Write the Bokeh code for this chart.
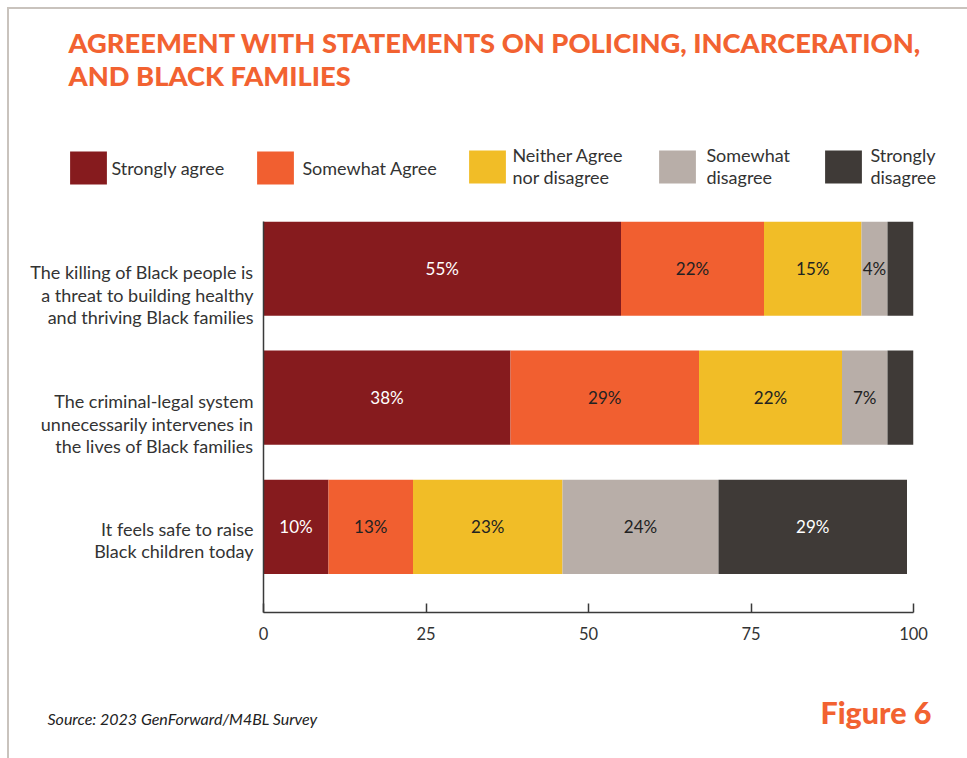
import numpy as np
from bokeh.plotting import figure
from bokeh.layouts import column
from bokeh.models import (ColumnDataSource, Label, Legend, LegendItem,
                          FixedTicker, Range1d)
from bokeh.core.properties import value
from bokeh.embed import file_html
from bokeh.resources import INLINE

# ---------------- data ----------------
statements = [
    "The killing of Black people is\na threat to building healthy\nand thriving Black families",
    "The criminal-legal system\nunnecessarily intervenes in\nthe lives of Black families",
    "It feels safe to raise\nBlack children today",
]
responses = ["Strongly agree", "Somewhat Agree", "Neither Agree\nnor disagree",
             "Somewhat\ndisagree", "Strongly\ndisagree"]
strongly_agree = [55, 38, 10]
somewhat_agree = [22, 29, 13]
neither = [15, 22, 23]
somewhat_disagree = [4, 7, 24]
strongly_disagree = [4, 4, 29]
# value labels printed in the bars (False = segment left unlabelled)
shown_strongly_agree = [True, True, True]
shown_somewhat_agree = [True, True, True]
shown_neither = [True, True, True]
shown_somewhat_disagree = [True, True, True]
shown_strongly_disagree = [False, False, True]
x_ticks = [0, 25, 50, 75, 100]

title_line1 = "AGREEMENT WITH STATEMENTS ON POLICING, INCARCERATION,"
title_line2 = "AND BLACK FAMILIES"
source_text = "Source: 2023 GenForward/M4BL Survey"
figure_text = "Figure 6"

# ---------------- styles ----------------
colors = ["#861B1E", "#F15F30", "#F1BD27", "#B8AEA8", "#3F3A37"]
label_colors = ["#FFFFFF", "#222222", "#222222", "#222222", "#FFFFFF"]
ORANGE = "#F26231"
FONT = "Lato"
HEAVY = "Lato Black"
TEXT = "#333333"
BORDER = "#C9C3BD"

W, H = 967, 758
HEAD_H = 221          # header strip (title + legend)
FOOT_H = 88           # footer strip (source + figure number)
MAIN_H = H - HEAD_H - FOOT_H
FL, FR = 263, 913     # plot frame left/right in pixels
FRAME_H = 391         # plot frame height in pixels
Y_LO, Y_HI = -0.663, 2.364
PX_PER_UNIT = FRAME_H / (Y_HI - Y_LO)
LABEL_DROP_PX = 13    # category labels sit lower by this much per extra line

# legend layout (pixels): swatch left edges and label gaps, as in the original
LEGEND_X = [70, 257, 469, 659, 825]
LEGEND_STANDOFF = [0, 4, 2, 6, 4]
LEGEND_BOTTOM = 188
# bokeh insets area swatches by 10% on each side
SW_W, SW_H = 37, 33
GLYPH_W, GLYPH_H = SW_W / 0.8, SW_H / 0.8
INSET_X = (GLYPH_W - SW_W) / 2

series = [strongly_agree, somewhat_agree, neither, somewhat_disagree, strongly_disagree]
shown = [shown_strongly_agree, shown_somewhat_agree, shown_neither,
         shown_somewhat_disagree, shown_strongly_disagree]
keys = ["s0", "s1", "s2", "s3", "s4"]
n = len(statements)
ypos = [n - 1 - i for i in range(n)]


def bare(fig):
    fig.outline_line_color = None
    fig.grid.visible = False
    fig.border_fill_color = None
    fig.background_fill_color = None
    fig.frame_align = False
    return fig


# ---------------- header: title + legend ----------------
head = bare(figure(width=W, height=HEAD_H, x_range=Range1d(0, W), y_range=Range1d(HEAD_H, 0),
                   x_axis_type=None, y_axis_type=None, output_backend="svg",
                   toolbar_location=None, min_border=0))
for txt, cy in [(title_line1, 42), (title_line2, 75)]:
    head.add_layout(Label(x=68, y=cy, text=txt, text_font=HEAVY, text_font_style="bold",
                          text_font_size="27.3px", text_color=ORANGE,
                          text_baseline="middle", text_align="left"))
# zero-size swatch renderers that only feed the legend
swatches = [head.hbar(y=[0], left=[0], right=[0], height=0, fill_color=c, line_color=None)
            for c in colors]
for resp, sw, lx, so in zip(responses, swatches, LEGEND_X, LEGEND_STANDOFF):
    head.add_layout(Legend(items=[LegendItem(label=resp, renderers=[sw])],
                           orientation="horizontal", location=(lx - INSET_X, HEAD_H - LEGEND_BOTTOM),
                           glyph_width=round(GLYPH_W), glyph_height=round(GLYPH_H),
                           label_standoff=so, spacing=0,
                           padding=0, margin=0, border_line_color=None,
                           background_fill_alpha=0,
                           label_text_font=FONT, label_text_font_size="18px",
                           label_text_color=TEXT, label_text_line_height=0.95,
                           label_height=round(GLYPH_H)))

# ---------------- main chart ----------------
p = figure(width=W, height=MAIN_H, x_range=(0, 100), y_range=(Y_LO, Y_HI),
           output_backend="svg", toolbar_location=None,
           min_border_left=FL, min_border_right=W - FR,
           min_border_top=0, min_border_bottom=MAIN_H - FRAME_H)
p.outline_line_color = None
p.grid.visible = False
p.border_fill_color = None
p.background_fill_color = "white"
p.frame_align = False

src = ColumnDataSource(dict(y=ypos, **{k: v for k, v in zip(keys, series)}))
rs = p.hbar_stack(keys, y="y", height=0.73, fill_color=colors, line_color=None, source=src)

data = np.array(series, dtype=float)
cum = np.cumsum(data, axis=0)
centers = cum - data / 2
for i in range(len(series)):
    xs, ys, ts = [], [], []
    for j in range(n):
        if shown[i][j]:
            xs.append(centers[i][j])
            ys.append(ypos[j])
            ts.append(f"{series[i][j]}%")
    p.text(x=xs, y=ys, text=ts, text_align="center", text_baseline="middle",
           text_color=label_colors[i], text_font=value(FONT), text_font_size="17px")

p.xaxis.ticker = FixedTicker(ticks=x_ticks)
p.xaxis.major_tick_in = 9
p.xaxis.major_tick_out = 0
p.xaxis.minor_tick_line_color = None
p.xaxis.axis_line_color = "#3A3A3A"
p.xaxis.axis_line_width = 1.5
p.xaxis.major_tick_line_color = "#3A3A3A"
p.xaxis.major_tick_line_width = 1.5
p.xaxis.major_label_text_font = FONT
p.xaxis.major_label_text_font_size = "16.5px"
p.xaxis.major_label_text_color = TEXT
p.xaxis.major_label_standoff = 14

# category labels: placed slightly below each bar centre, as in the original
label_ticks = [round(y - (s.count("\n") * LABEL_DROP_PX) / PX_PER_UNIT, 4)
               for y, s in zip(ypos, statements)]
p.yaxis.ticker = FixedTicker(ticks=label_ticks)
p.yaxis.major_label_overrides = {t: s for t, s in zip(label_ticks, statements)}
p.yaxis.major_tick_in = 0
p.yaxis.major_tick_out = 0
p.yaxis.minor_tick_line_color = None
p.yaxis.axis_line_color = "#3A3A3A"
p.yaxis.axis_line_width = 1.5
p.yaxis.major_label_text_font = FONT
p.yaxis.major_label_text_font_size = "18px"
p.yaxis.major_label_text_color = TEXT
p.yaxis.major_label_text_line_height = 1.02
p.yaxis.major_label_standoff = 10

# ---------------- footer: source + figure number ----------------
foot = bare(figure(width=W, height=FOOT_H, x_range=Range1d(0, W),
                   y_range=Range1d(H, H - FOOT_H),
                   x_axis_type=None, y_axis_type=None, output_backend="svg",
                   toolbar_location=None, min_border=0))
foot.add_layout(Label(x=47, y=718, text=source_text, text_font=FONT, text_font_style="italic",
                      text_font_size="16px", text_color="#222222",
                      text_baseline="middle", text_align="left"))
foot.add_layout(Label(x=931, y=711, text=figure_text, text_font=HEAVY, text_font_style="bold",
                      text_font_size="30.5px", text_color=ORANGE,
                      text_baseline="middle", text_align="right"))

page_bg = (f"linear-gradient({BORDER}, {BORDER}) 7px 7px / 2px 100% no-repeat, "
           f"linear-gradient({BORDER}, {BORDER}) 7px 7px / 100% 2px no-repeat, #ffffff")
layout = column(head, p, foot, spacing=0, styles={"background": page_bg})

open("out.html", "w").write(file_html(layout, INLINE))
